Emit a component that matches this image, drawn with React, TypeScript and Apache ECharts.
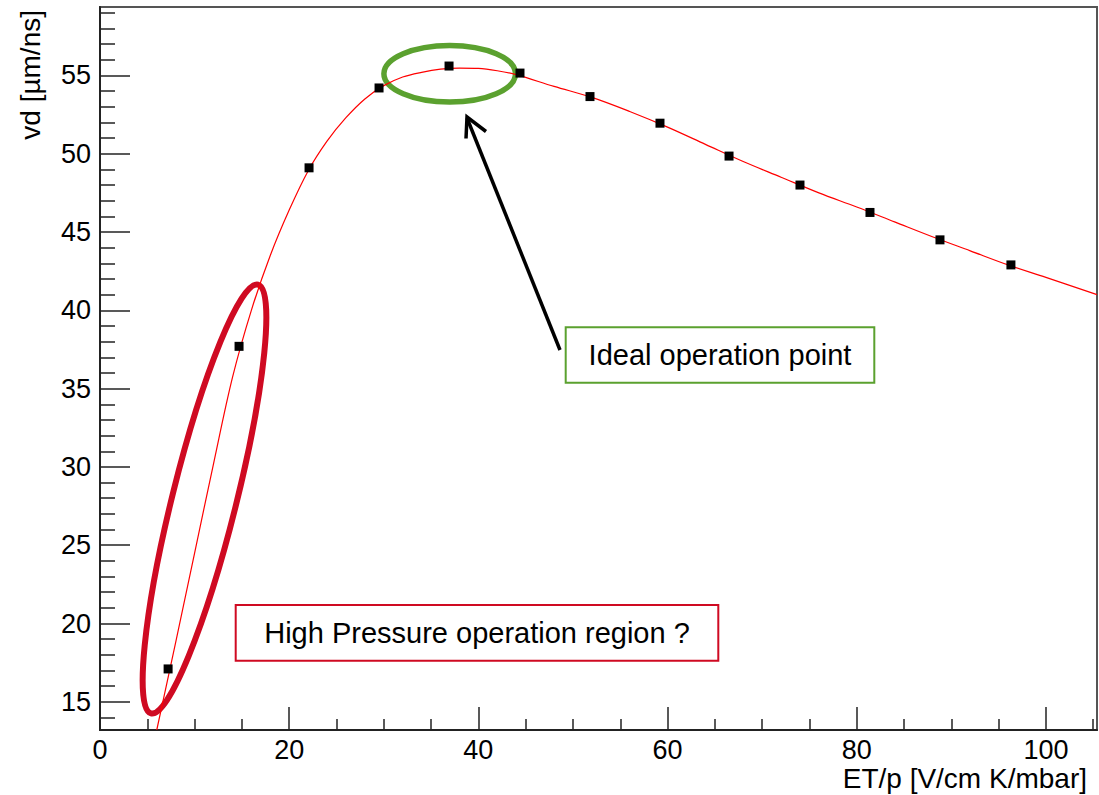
import React, { useEffect, useRef } from "react";
import * as echarts from "echarts";

// Measured drift velocity points
const etpValues = [7.2, 14.7, 22.1, 29.5, 36.9, 44.4, 51.8, 59.2, 66.5, 74.0, 81.4, 88.8, 96.3];
const vdValues = [17.1, 37.7, 49.1, 54.2, 55.6, 55.15, 53.65, 51.95, 49.85, 48.0, 46.25, 44.5, 42.9];

// Fit curve
const fitX = [6, 8, 10, 12, 14, 16, 18, 20, 22, 24, 26, 28, 30, 32, 34, 36, 38, 40, 42, 44, 48, 52, 56, 60, 64, 68, 72, 76, 80, 84, 88, 92, 96, 100, 105.4];
const fitY = [13.2, 18.8, 24.5, 30.2, 35.7, 40.0, 43.5, 46.4, 48.9, 50.8, 52.3, 53.5, 54.35, 54.9, 55.2, 55.4, 55.47, 55.45, 55.3, 55.05, 54.3, 53.6, 52.7, 51.7, 50.6, 49.5, 48.5, 47.5, 46.6, 45.65, 44.7, 43.8, 42.9, 42.1, 41.0];

// Axis ticks
const xMajorTicks = [0, 20, 40, 60, 80, 100];
const xMinorTicks = [5, 10, 15, 25, 30, 35, 45, 50, 55, 65, 70, 75, 85, 90, 95, 105];
const yMajorTicks = [15, 20, 25, 30, 35, 40, 45, 50, 55];
const yMinorTicks = [14, 16, 17, 18, 19, 21, 22, 23, 24, 26, 27, 28, 29, 31, 32, 33, 34, 36, 37, 38, 39, 41, 42, 43, 44, 46, 47, 48, 49, 51, 52, 53, 54, 56, 57, 58, 59];

const X_MIN = 0;
const X_MAX = 105.4;
const Y_MIN = 13.2;
const Y_MAX = 59.37;

const FONT = "'Liberation Sans', Arial, Helvetica, sans-serif";
const RED = "#cf0a22";
const GREEN = "#5ba12f";

export default function App() {
  const ref = useRef<HTMLDivElement>(null);

  useEffect(() => {
    if (!ref.current) return;
    const chart = echarts.init(ref.current, null, { renderer: "svg" });

    const tickStyle = { color: "#222", width: 1.5 };

    const option: any = {
      animation: false,
      backgroundColor: "#ffffff",
      textStyle: { fontFamily: FONT },
      grid: {
        left: 100,
        right: 2,
        top: 7,
        bottom: 65,
        show: true,
        borderColor: "#555",
        borderWidth: 2,
        containLabel: false,
      },
      xAxis: [
        {
          type: "value",
          position: "bottom",
          min: X_MIN,
          max: X_MAX,
          axisLine: { show: true, onZero: false, lineStyle: { color: "#222", width: 2 } },
          axisTick: { show: true, inside: true, length: 23, customValues: xMajorTicks, lineStyle: tickStyle },
          axisLabel: {
            show: true,
            customValues: xMajorTicks,
            fontSize: 27,
            color: "#000",
            margin: 6,
            fontFamily: FONT,
            formatter: (v: number) => String(v),
          },
          splitLine: { show: false },
        },
        {
          type: "value",
          position: "bottom",
          min: X_MIN,
          max: X_MAX,
          axisLine: { show: false, onZero: false },
          axisTick: { show: true, inside: true, length: 11, customValues: xMinorTicks, lineStyle: tickStyle },
          axisLabel: { show: false },
          splitLine: { show: false },
        },
      ],
      yAxis: [
        {
          type: "value",
          position: "left",
          min: Y_MIN,
          max: Y_MAX,
          axisLine: { show: true, onZero: false, lineStyle: { color: "#222", width: 2 } },
          axisTick: { show: true, inside: true, length: 30, customValues: yMajorTicks, lineStyle: tickStyle },
          axisLabel: {
            show: true,
            customValues: yMajorTicks,
            fontSize: 27,
            color: "#000",
            margin: 9,
            fontFamily: FONT,
            formatter: (v: number) => String(v),
          },
          splitLine: { show: false },
        },
        {
          type: "value",
          position: "left",
          min: Y_MIN,
          max: Y_MAX,
          axisLine: { show: false, onZero: false },
          axisTick: { show: true, inside: true, length: 15, customValues: yMinorTicks, lineStyle: tickStyle },
          axisLabel: { show: false },
          splitLine: { show: false },
        },
      ],
      series: [
        {
          type: "line",
          name: "fit",
          xAxisIndex: 0,
          yAxisIndex: 0,
          data: fitX.map((x, i) => [x, fitY[i]]),
          smooth: 0.35,
          showSymbol: false,
          clip: true,
          lineStyle: { color: "#ff0000", width: 1.2 },
          z: 3,
        },
        {
          type: "scatter",
          name: "vd",
          xAxisIndex: 0,
          yAxisIndex: 0,
          data: etpValues.map((x, i) => [x, vdValues[i]]),
          symbol: "rect",
          symbolSize: 9,
          itemStyle: { color: "#000", opacity: 1 },
          z: 4,
        },
      ],
      graphic: [
        {
          type: "text",
          x: 30,
          y: 10,
          rotation: Math.PI / 2,
          style: {
            text: "vd [µm/ns]",
            fontSize: 28,
            fontFamily: FONT,
            fill: "#000",
            align: "right",
            verticalAlign: "middle",
          },
        },
        {
          type: "text",
          x: 1087,
          y: 778,
          style: {
            text: "ET/p [V/cm K/mbar]",
            fontSize: 28,
            fontFamily: FONT,
            fill: "#000",
            align: "right",
            verticalAlign: "middle",
          },
        },
        {
          type: "ellipse",
          x: 204.5,
          y: 499,
          rotation: (-14 * Math.PI) / 180,
          shape: { cx: 0, cy: 0, rx: 32, ry: 221 },
          style: { fill: "none", stroke: RED, lineWidth: 6 },
          z: 1,
        },
        {
          type: "ellipse",
          shape: { cx: 449.7, cy: 73.8, rx: 65.8, ry: 28.3 },
          style: { fill: "none", stroke: GREEN, lineWidth: 5.5 },
          z: 1,
        },
        {
          type: "line",
          shape: { x1: 560, y1: 350, x2: 467, y2: 118 },
          style: { stroke: "#000", lineWidth: 3.5 },
          z: 1,
        },
        {
          type: "polyline",
          shape: { points: [[466, 138.5], [467, 117], [486, 131.5]] },
          style: { stroke: "#000", lineWidth: 3.5, fill: "none", lineJoin: "miter" },
          z: 1,
        },
        {
          type: "rect",
          shape: { x: 565.7, y: 327.3, width: 308.6, height: 55.4 },
          style: { fill: "#fff", stroke: GREEN, lineWidth: 2 },
          z: 1,
        },
        {
          type: "text",
          x: 720,
          y: 355,
          style: {
            text: "Ideal operation point",
            fontSize: 29,
            fontFamily: FONT,
            fill: "#000",
            align: "center",
            verticalAlign: "middle",
          },
          z: 2,
        },
        {
          type: "rect",
          shape: { x: 235.7, y: 605, width: 482.6, height: 55.7 },
          style: { fill: "#fff", stroke: RED, lineWidth: 2 },
          z: 1,
        },
        {
          type: "text",
          x: 477,
          y: 633,
          style: {
            text: "High Pressure operation region ?",
            fontSize: 29,
            fontFamily: FONT,
            fill: "#000",
            align: "center",
            verticalAlign: "middle",
          },
          z: 2,
        },
      ],
    };

    chart.setOption(option);
    return () => {
      chart.dispose();
    };
  }, []);

  return (
    <div
      ref={ref}
      style={{ position: "fixed", left: 0, top: 0, width: 1099, height: 795, background: "#fff" }}
    />
  );
}
